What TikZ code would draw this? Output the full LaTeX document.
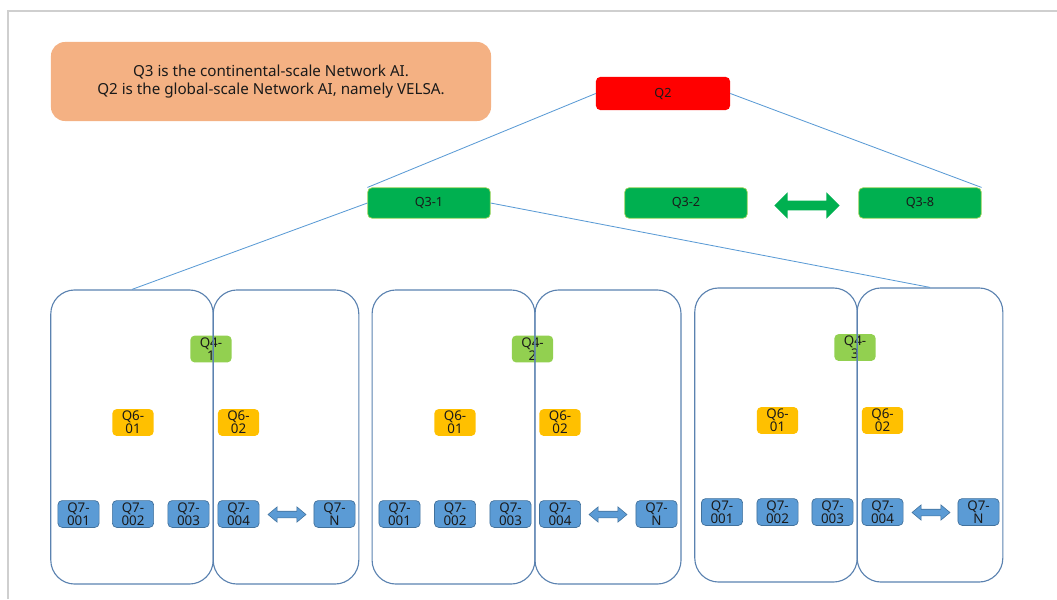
\documentclass[tikz,border=0pt]{standalone}
\usepackage{fontspec}
\setmainfont{Noto Sans}
\usepackage{xcolor}
\definecolor{VelsaRed}{HTML}{FF0000}
\definecolor{VelsaGreen}{HTML}{00B050}
\definecolor{VelsaLime}{HTML}{92D050}
\definecolor{VelsaAmber}{HTML}{FFC000}
\definecolor{VelsaBlue}{HTML}{5B9BD5}
\definecolor{VelsaNavy}{HTML}{41719C}
\definecolor{VelsaFrame}{HTML}{5B82B0}
\definecolor{VelsaPeach}{HTML}{F4B183}
\definecolor{VelsaInk}{HTML}{1A1A1A}
\definecolor{VelsaRule}{HTML}{CFCFCF}
\usepackage{tikz}
\usetikzlibrary{shapes.arrows}

\begin{document}
\begin{tikzpicture}[
        x=0.025cm, y=-0.025cm,
        summary/.style={
            fill=VelsaPeach,
            rounded corners=10pt,
            text=VelsaInk,
            minimum width=11cm,
            minimum height=1.975cm,
            align=center,
            font=\fontsize{10.8}{13}\selectfont
        },
        globalai/.style={
            fill=VelsaRed,
            rounded corners=3pt,
            text=VelsaInk,
            minimum width=3.35cm,
            minimum height=0.825cm,
            font=\fontsize{9}{10}\selectfont
        },
        continentalai/.style={
            draw=VelsaLime,
            fill=VelsaGreen,
            line width=0.5pt,
            rounded corners=3pt,
            text=VelsaInk,
            minimum width=3.06cm,
            minimum height=0.76cm,
            font=\fontsize{9}{10}\selectfont
        },
        smallbox/.style={
            rounded corners=3pt,
            text=VelsaInk,
            inner sep=0pt,
            minimum width=1.03cm,
            minimum height=0.67cm,
            align=center,
            font=\fontsize{9.5}{9.4}\selectfont
        },
        regionai/.style={smallbox, fill=VelsaLime},
        localai/.style={smallbox, fill=VelsaAmber},
        edgeai/.style={smallbox, draw=VelsaNavy, fill=VelsaBlue, line width=0.5pt},
        cluster/.style={
            draw=VelsaFrame,
            line width=0.8pt,
            rounded corners=17pt,
            inner sep=0pt,
            minimum height=7.35cm
        },
        peerlink/.style={
            double arrow,
            draw=VelsaNavy,
            fill=VelsaBlue,
            line width=0.4pt,
            inner xsep=0pt,
            inner ysep=0.075cm,
            minimum height=0.95cm,
            double arrow head extend=0.11cm,
            double arrow tip angle=80
        },
        link/.style={
            line width=0.6pt,
            draw=VelsaBlue
        }
    ]
        \useasboundingbox (0,0) rectangle (1057,599);
        \draw[VelsaRule, line width=1pt] (8,599) -- (8,11) -- (1057,11);

        \node[summary] (note) at (271,81.5)
            {Q3 is the continental-scale Network AI.\\Q2 is the global-scale Network AI, namely VELSA.};

        \node[globalai] (q2) at (663,93.5) {Q2};
        \node[continentalai] (q31) at (429,203) {Q3-1};
        \node[continentalai] (q32) at (686,203) {Q3-2};
        \node[continentalai] (q38) at (920,203) {Q3-8};
        \node[double arrow, fill=VelsaGreen, inner xsep=0pt, inner ysep=0.1125cm,
              minimum height=1.63cm,
              double arrow head extend=0.21cm] (q3peer) at (807,205.5) {};

        \node[regionai] (q41) at (211,349) {Q4-\\1};
        \node[localai] (q611) at (133,422.5) {Q6-\\01};
        \node[localai] (q612) at (238.5,422.5) {Q6-\\02};
        \node[edgeai] (q7a1) at (78.5,514) {Q7-\\001};
        \node[edgeai] (q7b1) at (133,514) {Q7-\\002};
        \node[edgeai] (q7c1) at (188.5,514) {Q7-\\003};
        \node[edgeai] (q7d1) at (238.5,514) {Q7-\\004};
        \node[edgeai] (q7n1) at (334.5,514) {Q7-\\N};
        \node[peerlink] (peer1) at (287,514.5) {};

        \node[regionai] (q42) at (532.5,349) {Q4-\\2};
        \node[localai] (q621) at (455,422.5) {Q6-\\01};
        \node[localai] (q622) at (560,422.5) {Q6-\\02};
        \node[edgeai] (q7a2) at (399.5,514) {Q7-\\001};
        \node[edgeai] (q7b2) at (455,514) {Q7-\\002};
        \node[edgeai] (q7c2) at (510.5,514) {Q7-\\003};
        \node[edgeai] (q7d2) at (560,514) {Q7-\\004};
        \node[edgeai] (q7n2) at (656.5,514) {Q7-\\N};
        \node[peerlink] (peer2) at (608,514.5) {};

        \node[regionai] (q43) at (855,347.5) {Q4-\\3};
        \node[localai] (q631) at (777.5,420.5) {Q6-\\01};
        \node[localai] (q632) at (882.5,420.5) {Q6-\\02};
        \node[edgeai] (q7a3) at (722,512) {Q7-\\001};
        \node[edgeai] (q7b3) at (777.5,512) {Q7-\\002};
        \node[edgeai] (q7c3) at (832.5,512) {Q7-\\003};
        \node[edgeai] (q7d3) at (882.5,512) {Q7-\\004};
        \node[edgeai] (q7n3) at (978.5,512) {Q7-\\N};
        \node[peerlink] (peer3) at (931,512.5) {};

        \node[cluster, minimum width=4.06cm] (p1a) at (132,437) {};
        \node[cluster, minimum width=3.64cm] (p1b) at (286,437) {};
        \node[cluster, minimum width=4.07cm] (p2a) at (453.5,437) {};
        \node[cluster, minimum width=3.65cm] (p2b) at (608,437) {};
        \node[cluster, minimum width=4.06cm] (p3a) at (776,435) {};
        \node[cluster, minimum width=3.64cm] (p3b) at (930,435) {};

        \draw[link] (q2.west) -- (q31.north west);
        \draw[link] (q2.east) -- (q38.north east);
        \draw[link] (q31.west) -- (p1a.north);
        \draw[link] (q31.east) -- (p3b.north);
    \end{tikzpicture}
\end{document}
